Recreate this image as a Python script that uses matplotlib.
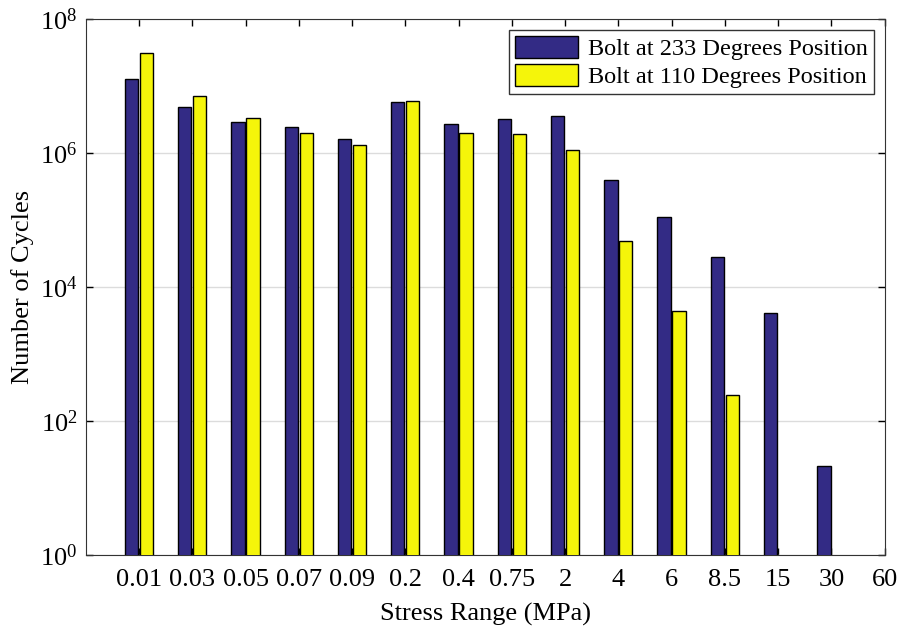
import numpy as np
import matplotlib
matplotlib.use("Agg")
import matplotlib.pyplot as plt

# Dados
stress_labels = ["0.01", "0.03", "0.05", "0.07", "0.09", "0.2", "0.4", "0.75",
                 "2", "4", "6", "8.5", "15", "30", "60"]
bolt_233 = [1.26e7, 4.8e6, 2.9e6, 2.4e6, 1.6e6, 5.8e6, 2.7e6, 3.2e6,
            3.5e6, 3.9e5, 1.1e5, 2.8e4, 4.1e3, 21, 0]
bolt_110 = [3.1e7, 7.1e6, 3.3e6, 2.0e6, 1.3e6, 5.9e6, 2.0e6, 1.9e6,
            1.1e6, 4.9e4, 4.4e3, 245, 0, 0, 0]

plt.rcParams['font.family'] = ['Liberation Serif', 'DejaVu Serif']
plt.rcParams['mathtext.fontset'] = 'custom'
plt.rcParams['mathtext.rm'] = 'Liberation Serif'

fig = plt.figure(figsize=(9.12, 6.32), dpi=100)
ax = fig.add_axes([0.094, 0.122, 0.876, 0.848])

x = np.arange(1, len(stress_labels) + 1)
w = 0.25
off = 0.14
b233 = np.array(bolt_233, dtype=float)
b110 = np.array(bolt_110, dtype=float)
ax.bar(x[b233 > 0] - off, b233[b233 > 0], w, color='#332b85', edgecolor='black',
       linewidth=1, label='Bolt at 233 Degrees Position', zorder=3)
ax.bar(x[b110 > 0] + off, b110[b110 > 0], w, color='#f5f50a', edgecolor='black',
       linewidth=1, label='Bolt at 110 Degrees Position', zorder=3)

ax.set_yscale('log')
ax.set_ylim(1, 1e8)
ax.set_xlim(0, 15)
ax.set_yticks([1e0, 1e2, 1e4, 1e6, 1e8])
ax.set_yticklabels([r'$\mathrm{10^{%d}}$' % p for p in (0, 2, 4, 6, 8)])
ax.yaxis.set_minor_locator(matplotlib.ticker.NullLocator())
ax.set_xticks(x)
ax.set_xticklabels(stress_labels)
ax.tick_params(axis='both', direction='in', top=True, right=True, length=5,
               labelsize=19, width=1)
ax.tick_params(axis='x', pad=10)
ax.tick_params(axis='y', pad=6)
ax.grid(axis='y', color='#dcdcdc', linewidth=1, zorder=0)
ax.set_axisbelow(True)
for s in ax.spines.values():
    s.set_color('#333333')

ax.set_xlabel("Stress Range (MPa)", fontsize=19, labelpad=9)
ax.set_ylabel("Number of Cycles", fontsize=19, labelpad=4)

leg = ax.legend(loc='upper right', fontsize=17.5, fancybox=False, framealpha=1,
                edgecolor='#333333', handlelength=2.6, handleheight=1.0,
                borderpad=0.25, labelspacing=0.15, handletextpad=0.4,
                borderaxespad=0.45)
leg.get_frame().set_linewidth(1)

fig.savefig("out.png", dpi=100)
